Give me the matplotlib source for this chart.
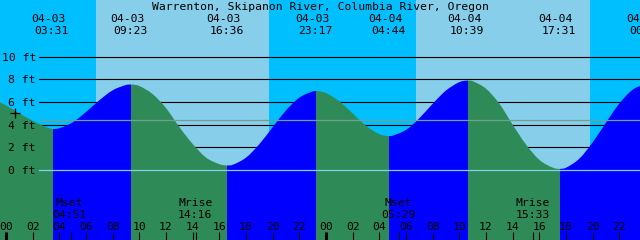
import matplotlib
matplotlib.use("Agg")
import matplotlib.pyplot as plt
from matplotlib.path import Path
from matplotlib.patches import PathPatch
import matplotlib.transforms as mtrans

# ---------------- data (hours from 04-03 00:00) ----------------
title = "Warrenton, Skipanon River, Columbia River, Oregon"

# tide extremes
ext_times = [-1.9, 3.517, 9.383, 16.6, 23.283, 28.733, 34.65, 41.517, 48.1]
ext_heights = [6.4, 3.62, 7.55, 0.4, 6.97, 3.0, 7.9, 0.1, 7.6]
ext_kind = ["H", "L", "H", "L", "H", "L", "H", "L", "H"]
ext_dates = ["04-02", "04-03", "04-03", "04-03", "04-03", "04-04", "04-04", "04-04", "04-05"]
ext_labels = ["21:54", "03:31", "09:23", "16:36", "23:17", "04:44", "10:39", "17:31", "00:06"]

# hourly tide readings (ft)
hours = list(range(-1, 49))
heights = [6.25, 5.7, 5.0, 4.35, 3.8,
           3.69, 4.21, 5.12, 6.16, 7.04, 7.51,
           7.42, 6.70, 5.47, 3.8, 2.3, 1.1, 0.52,
           0.46, 1.09, 2.28, 3.78, 5.26, 6.39, 6.94,
           6.80, 6.07, 4.99, 3.91, 3.17,
           3.03, 3.54, 4.57, 5.85, 7.02, 7.76,
           7.85, 7.18, 5.86, 4.0, 2.25, 0.9, 0.21,
           0.2, 1.0, 2.44, 4.19, 5.87, 7.09, 7.6]

# sun rise / set
sun_rise = [6.75, 30.75]
sun_set = [19.73, 43.8]

# moon events
moon_names = ["Mset", "Mrise", "Mset", "Mrise"]
moon_times = [4.85, 14.267, 29.483, 39.55]
moon_labels = ["04:51", "14:16", "05:29", "15:33"]

mean_level = 4.39
y_ticks = [0, 2, 4, 6, 8, 10]
hour_ticks = list(range(0, 49, 2))
marker_time = [0.65]
marker_height = [5.0]

# ---------------- styling ----------------
NIGHT = "#00BFFF"
DAY = "#87CEEB"
RISE = "#0000FF"
FALL = "#2E8B57"
MEAN = "#6FA090"
FONT = "DejaVu Sans Mono"
FS = 8.2

W, H = 640, 240
fig = plt.figure(figsize=(W / 100, H / 100), dpi=100)
ax = fig.add_axes([0, 0, 1, 1])
XMIN, XMAX = -0.45, 47.55
PX_PER_FT = 11.32
ZERO_PX = 170.0
YTOP = ZERO_PX / PX_PER_FT
YBOT = -(H - ZERO_PX) / PX_PER_FT
ax.set_xlim(XMIN, XMAX)
ax.set_ylim(YBOT, YTOP)
ax.axis("off")

def fy(px):
    return 1 - px / H

# background night/day
ax.axvspan(XMIN, XMAX, color=NIGHT, zorder=0, lw=0)
for r, s in zip(sun_rise, sun_set):
    ax.axvspan(r, s, color=DAY, zorder=0.1, lw=0)

# grid lines behind tide
x0 = 39 / W
for v in y_ticks[1:]:
    ax.axhline(v, xmin=x0, xmax=1, color="black", lw=0.8, zorder=1)

# tide curve: merge hourly readings and extremes
pts = sorted(list(zip(hours, heights, [False] * len(hours))) +
             list(zip(ext_times, ext_heights, [True] * len(ext_times))))
t = [p[0] for p in pts]
v = [p[1] for p in pts]
isext = [p[2] for p in pts]
n = len(t)
m = []
for i in range(n):
    if isext[i]:
        m.append(0.0)
    elif i == 0:
        m.append((v[1] - v[0]) / (t[1] - t[0]))
    elif i == n - 1:
        m.append((v[-1] - v[-2]) / (t[-1] - t[-2]))
    else:
        m.append((v[i + 1] - v[i - 1]) / (t[i + 1] - t[i - 1]))
verts = [(t[0], YBOT - 1), (t[0], v[0])]
codes = [Path.MOVETO, Path.LINETO]
for i in range(n - 1):
    dt = t[i + 1] - t[i]
    verts += [(t[i] + dt / 3, v[i] + m[i] * dt / 3),
              (t[i + 1] - dt / 3, v[i + 1] - m[i + 1] * dt / 3),
              (t[i + 1], v[i + 1])]
    codes += [Path.CURVE4] * 3
verts += [(t[-1], YBOT - 1), (t[0], YBOT - 1)]
codes += [Path.LINETO, Path.CLOSEPOLY]
clip = PathPatch(Path(verts, codes), transform=ax.transData,
                 facecolor="none", edgecolor="none")
ax.add_patch(clip)

for i in range(len(ext_times) - 1):
    col = RISE if ext_kind[i] == "L" else FALL
    sp = ax.axvspan(ext_times[i], ext_times[i + 1], color=col, lw=0, zorder=2)
    sp.set_clip_path(clip)

# lines over tide
ax.axhline(0, xmin=x0, xmax=1, color=DAY, lw=0.9, zorder=3)
ax.axhline(mean_level, xmin=x0, xmax=1, color=MEAN, lw=0.9, zorder=3)

# plus marker
ax.plot(marker_time, marker_height, marker="+", color="black", ms=6.8,
        mew=0.9, ls="none", zorder=4)

txt = dict(family=FONT, fontsize=FS, color="black", zorder=5)
xf = ax.get_xaxis_transform()
yf = ax.get_yaxis_transform()

# y labels (baseline 4 px below the line)
ylab = mtrans.offset_copy(yf, fig=fig, x=0, y=-4, units="dots")
for v_ in y_ticks:
    ax.text(36 / W, v_, f"{v_} ft", transform=ylab, ha="right", va="baseline", **txt)

# title
ax.text(0.5, fy(9.5), title, transform=ax.transAxes, ha="center", va="baseline", **txt)

# tide event labels
dshift = mtrans.offset_copy(xf, fig=fig, x=-4, y=0, units="dots")
tshift = mtrans.offset_copy(xf, fig=fig, x=-1, y=0, units="dots")
for tm, d, lab in zip(ext_times, ext_dates, ext_labels):
    if XMIN < tm < XMAX + 2:
        ax.text(tm, fy(21.7), d, transform=dshift, ha="center", va="baseline", **txt)
        ax.text(tm, fy(34), lab, transform=tshift, ha="center", va="baseline", **txt)

# moon labels
for nm, tm, lab in zip(moon_names, moon_times, moon_labels):
    ax.text(tm, fy(206), nm, transform=tshift, ha="center", va="baseline", **txt)
    ax.text(tm, fy(218.3), lab, transform=tshift, ha="center", va="baseline", **txt)

# hour labels and ticks
for hh in hour_ticks:
    ax.text(hh, fy(230), f"{hh % 24:02d}", transform=xf, ha="center",
            va="baseline", **txt)
    lw = 2.2 if hh % 24 == 0 else 0.8
    ax.plot([hh, hh], [fy(232), 0], transform=xf, color="black", lw=lw,
            zorder=5, solid_capstyle="butt")
for tm in moon_times:
    ax.plot([tm, tm], [fy(232), 0], transform=xf, color="black", lw=0.8,
            zorder=5, solid_capstyle="butt")

fig.savefig("out.png", dpi=100)
